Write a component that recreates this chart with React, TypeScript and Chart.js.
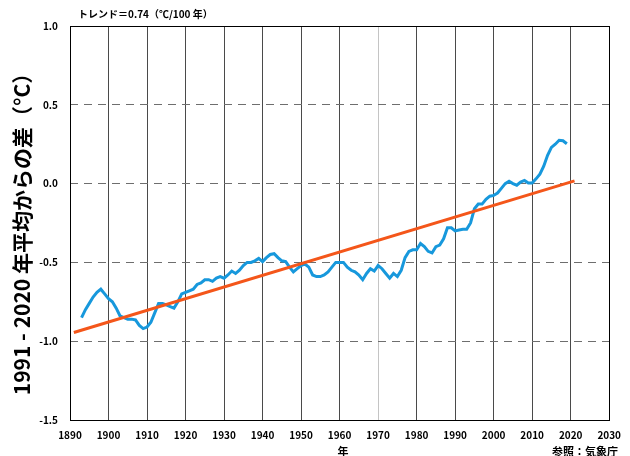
import React, { useEffect, useRef } from "react";
import { Chart, registerables } from "chart.js";

Chart.register(...registerables);

// 5-year running mean of Japan's annual mean temperature anomaly (°C), 1893–2019
const FIRST_YEAR = 1893;
const anomaly = [
  -0.85, -0.8, -0.76, -0.72, -0.69, -0.67, -0.7, -0.73, -0.75, -0.79,
  -0.84, -0.85, -0.86, -0.86, -0.865, -0.9, -0.92, -0.91, -0.88, -0.82,
  -0.76, -0.76, -0.77, -0.78, -0.79, -0.75, -0.7, -0.69, -0.68, -0.67,
  -0.64, -0.63, -0.61, -0.61, -0.62, -0.6, -0.59, -0.6, -0.58, -0.555,
  -0.57, -0.55, -0.52, -0.5, -0.5, -0.49, -0.475, -0.495, -0.47, -0.45,
  -0.445, -0.47, -0.49, -0.495, -0.53, -0.56, -0.54, -0.52, -0.51, -0.53,
  -0.58, -0.59, -0.59, -0.58, -0.56, -0.53, -0.5, -0.5, -0.5, -0.53,
  -0.55, -0.56, -0.58, -0.61, -0.57, -0.54, -0.555, -0.52, -0.54, -0.57,
  -0.6, -0.57, -0.59, -0.55, -0.47, -0.43, -0.42, -0.42, -0.38, -0.4,
  -0.43, -0.44, -0.4, -0.39, -0.35, -0.28, -0.28, -0.3, -0.295, -0.29,
  -0.29, -0.25, -0.16, -0.13, -0.13, -0.1, -0.08, -0.075, -0.06, -0.03,
  0.0, 0.015, 0.0, -0.01, 0.01, 0.02, 0.004, 0.004, 0.03, 0.06,
  0.11, 0.18, 0.23, 0.25, 0.275, 0.272, 0.253,
];
const years = anomaly.map((_, i) => FIRST_YEAR + i);

const trendYears = [1891, 2021];
const trendValues = [-0.945, 0.017];

const xTickValues = [1890, 1900, 1910, 1920, 1930, 1940, 1950, 1960, 1970, 1980, 1990, 2000, 2010, 2020, 2030];
const yTickValues = [-1.5, -1.0, -0.5, 0.0, 0.5, 1.0];

const titleText = "トレンド＝0.74（℃/100 年）";
const yTitleText = "1991 - 2020 年平均からの差（°C）";
const xTitleText = "年";
const creditText = "参照：気象庁";

const FONT = "'Noto Sans CJK JP', 'Noto Sans', sans-serif";

export default function App() {
  const canvasRef = useRef<HTMLCanvasElement | null>(null);

  useEffect(() => {
    if (!canvasRef.current) return;

    const decorations = {
      id: "decorations",
      beforeDatasetsDraw(chart: any) {
        const { ctx, chartArea: a } = chart;
        ctx.save();
        ctx.strokeStyle = "#000";
        ctx.lineWidth = 1;
        ctx.setLineDash([]);
        ctx.strokeRect(Math.round(a.left) + 0.5, Math.round(a.top) + 0.5, Math.round(a.right - a.left), Math.round(a.bottom - a.top));
        ctx.restore();
      },
      afterDraw(chart: any) {
        const { ctx } = chart;
        ctx.save();
        ctx.fillStyle = "#000";
        ctx.font = `bold 10px ${FONT}`;
        ctx.textAlign = "left";
        ctx.textBaseline = "middle";
        ctx.fillText(titleText, 78, 14);

        ctx.font = `bold 11px ${FONT}`;
        ctx.textAlign = "center";
        ctx.fillText(xTitleText, 343, 452);
        ctx.textAlign = "right";
        ctx.fillText(creditText, 618, 452);

        ctx.translate(22, 229);
        ctx.rotate(-Math.PI / 2);
        ctx.font = `bold 21px ${FONT}`;
        ctx.textAlign = "center";
        ctx.textBaseline = "middle";
        ctx.fillText(yTitleText, 0, 0);
        ctx.restore();
      },
    };

    const chart = new Chart(canvasRef.current, {
      type: "line",
      data: {
        datasets: [
          {
            label: "5年移動平均",
            data: years.map((x, i) => ({ x, y: anomaly[i] })),
            borderColor: "#1798dc",
            borderWidth: 3,
            pointRadius: 0,
            tension: 0,
            fill: false,
            order: 2,
          },
          {
            label: "トレンド",
            data: trendYears.map((x, i) => ({ x, y: trendValues[i] })),
            borderColor: "#f4561a",
            borderWidth: 3,
            pointRadius: 0,
            fill: false,
            order: 1,
          },
        ],
      },
      options: {
        animation: false,
        responsive: false,
        devicePixelRatio: 1,
        layout: { padding: { left: 0, right: 14, top: 26, bottom: 0 } },
        plugins: {
          legend: { display: false },
          tooltip: { enabled: false },
          title: { display: false },
        },
        scales: {
          x: {
            type: "linear",
            min: 1890,
            max: 2030,
            afterBuildTicks: (s: any) => {
              s.ticks = xTickValues.map((value) => ({ value }));
            },
            afterFit: (s: any) => {
              s.height = 36;
            },
            ticks: {
              autoSkip: false,
              maxRotation: 0,
              padding: 9,
              color: "#000",
              font: { family: FONT, size: 10, weight: "bold" },
              callback: (v: any) => String(v),
            },
            grid: {
              drawTicks: false,
              lineWidth: 1,
              color: (c: any) => (c.tick && c.tick.value === 1970 ? "#c4c4c4" : "#4a4a4a"),
            },
            border: { display: false },
          },
          y: {
            min: -1.5,
            max: 1.0,
            afterBuildTicks: (s: any) => {
              s.ticks = yTickValues.map((value) => ({ value }));
            },
            afterFit: (s: any) => {
              s.width = 70;
            },
            ticks: {
              padding: 12,
              color: "#000",
              font: { family: FONT, size: 10, weight: "bold" },
              callback: (v: any) => Number(v).toFixed(1),
            },
            grid: {
              drawTicks: false,
              lineWidth: 1,
              color: "#6e6e6e",
            },
            border: { display: false, dash: [8, 6] },
          },
        },
      },
      plugins: [decorations],
    });

    return () => chart.destroy();
  }, []);

  return (
    <div style={{ position: "absolute", left: 0, top: 0, width: 630, height: 456, background: "#fff" }}>
      <canvas ref={canvasRef} width={630} height={456} />
    </div>
  );
}
